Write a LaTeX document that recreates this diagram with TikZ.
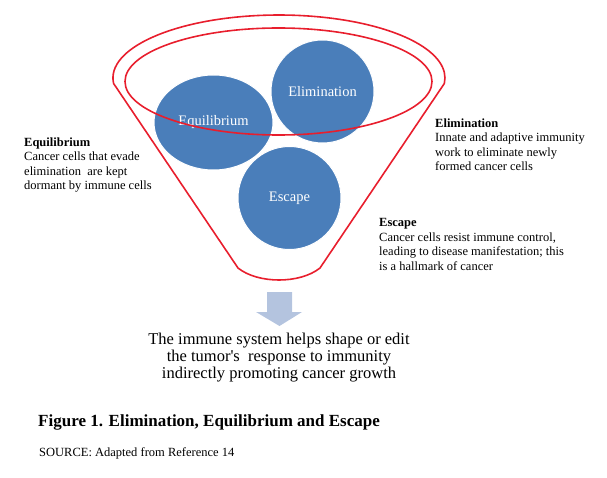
\documentclass[tikz,border=0pt]{standalone}
\usepackage{fontspec}
\setmainfont{Liberation Serif}
\usetikzlibrary{positioning, shapes.geometric, calc}
\definecolor{cellblue}{RGB}{74,126,186}
\definecolor{funnelred}{RGB}{232,30,45}
\definecolor{arrowblue}{RGB}{180,196,223}
\tikzset{
    cell/.style={ellipse, fill=cellblue, draw=white, line width=1pt, text=white, inner sep=0pt, font=\fontsize{14.5}{16}\selectfont},
    funnel/.style={draw=funnelred, line width=1.6pt},
    note/.style={anchor=base west, align=left, inner sep=0pt, font=\fontsize{12.5}{14.5}\selectfont}
}

\begin{document}
\begin{tikzpicture}[
    x=1pt, y=1pt,
    result/.style={anchor=base, align=center, inner sep=0pt, font=\fontsize{16.5}{17}\selectfont},
    caption/.style={anchor=base west, inner sep=0pt, font=\fontsize{17}{20}\selectfont\bfseries}
]
    \useasboundingbox (0,0) rectangle (607,477);

    % --- The three phases ---
    \node[cell, minimum width=119pt, minimum height=95pt] (equi) at (213.5,354.5) {Equilibrium};
    \node[cell, circle, minimum size=103pt] (elim) at (322.5,385.5) {Elimination};
    \node[cell, circle, minimum size=103pt] (esc) at (289.5,279) {Escape};

    % --- Funnel ---
    \draw[funnel] (238,209) -- (113.6,393.5)
        arc[start angle=185, end angle=-5, x radius=166, y radius=63]
        -- (320,209) .. controls (300,193) and (258,193) .. cycle;
    \draw[funnel] (278.5,395.5) ellipse[x radius=153.5, y radius=53.5];

    % --- Down arrow ---
    \fill[arrowblue] (267,185) -- (292,185) -- (292,165) -- (302,165)
        -- (279.5,151) -- (256,165) -- (267,165) -- cycle;

    % --- Side notes (placed by their last line) ---
    \node[note] (equinote) at (24,287) {\textbf{Equilibrium}\\Cancer cells that evade\\elimination~ are kept\\dormant by immune cells};
    \node[note] (elimnote) at (435,306) {\textbf{Elimination}\\Innate and adaptive immunity\\work to eliminate newly\\formed cancer cells};
    \node[note] (escnote) at (379,207) {\textbf{Escape}\\Cancer cells resist immune control,\\leading to disease manifestation; this\\is a hallmark of cancer};

    % --- Outcome and caption ---
    \node[result] (outcome) at (279,99) {The immune system helps shape or edit\\the tumor\textquotesingle s~ response to immunity\\indirectly promoting cancer growth};
    \node[caption] (figcap) at (38,51) {Figure 1. Elimination, Equilibrium and Escape};
    \node[note] (source) at (39,21) {SOURCE: Adapted from Reference 14};

\end{tikzpicture}
\end{document}
